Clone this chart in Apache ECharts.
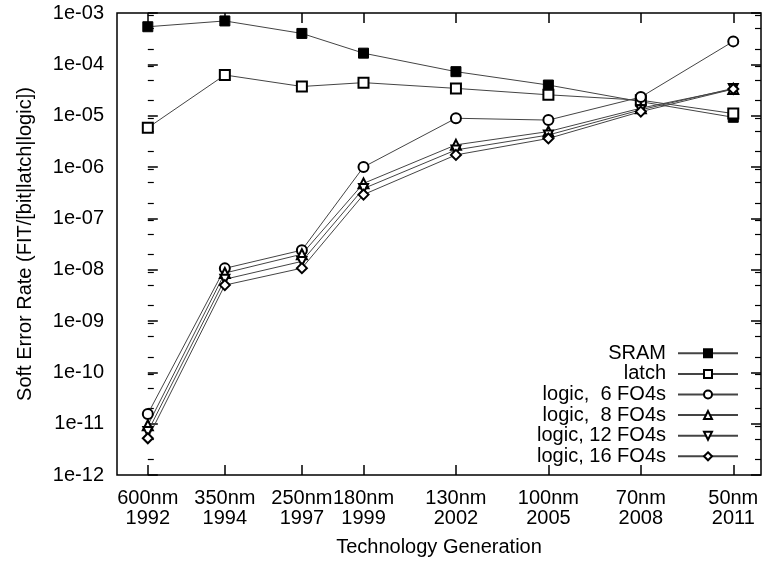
<!DOCTYPE html>
<html>
<head>
<meta charset="utf-8">
<title>Soft Error Rate</title>
<script src="https://cdn.jsdelivr.net/npm/echarts@6/dist/echarts.min.js"></script>
<style>
  html, body { margin: 0; padding: 0; background: #fff; }
  #chart { width: 763px; height: 565px; }
</style>
</head>
<body>
<div id="chart"></div>
<script>
// categories (x positions are where each generation sits on the axis)
const nodes = ["600nm", "350nm", "250nm", "180nm", "130nm", "100nm", "70nm", "50nm"];
const years = ["1992", "1994", "1997", "1999", "2002", "2005", "2008", "2011"];
const xPos = [0, 1, 2, 2.8, 4, 5.2, 6.4, 7.6];

// FIT per bit / latch / logic
const sram = [5.4e-4, 7.0e-4, 4.0e-4, 1.65e-4, 7.2e-5, 3.95e-5, 1.87e-5, 9.3e-6];
const latch = [5.8e-6, 6.2e-5, 3.7e-5, 4.4e-5, 3.4e-5, 2.55e-5, 2.0e-5, 1.1e-5];
const logic6 = [1.55e-11, 1.06e-8, 2.4e-8, 1.0e-6, 8.9e-6, 8.2e-6, 2.3e-5, 2.8e-4];
const logic8 = [9.3e-12, 8.6e-9, 2.0e-8, 4.8e-7, 2.7e-6, 4.9e-6, 1.4e-5, 3.3e-5];
const logic12 = [7.0e-12, 6.5e-9, 1.45e-8, 3.8e-7, 2.15e-6, 4.2e-6, 1.3e-5, 3.4e-5];
const logic16 = [5.2e-12, 5.0e-9, 1.07e-8, 2.9e-7, 1.72e-6, 3.6e-6, 1.2e-5, 3.3e-5];

// y axis ticks
const yMin = 1e-12;
const yMax = 1e-3;
const minorTicks = [];
for (let k = -12; k < -3; k++) {
  [2, 5, 9].forEach(m => minorTicks.push(m * Math.pow(10, k)));
}

const font = "Liberation Sans";
const ink = "#000";

let chart = echarts.init(document.getElementById("chart"));

function mkSeries(name, arr, symbol, size, rotate) {
  return {
    name: name,
    type: "line",
    data: xPos.map((x, i) => [x, arr[i]]),
    symbol: symbol,
    symbolSize: size,
    symbolRotate: rotate || 0,
    showAllSymbol: true,
    lineStyle: { color: "#444", width: 1 },
    itemStyle: { color: "#000", borderColor: "#000", borderWidth: 1 },
    emphasis: { disabled: true },
  };
}

function yAxisBase(pos) {
  return {
    type: "log",
    logBase: 10,
    min: yMin,
    max: yMax,
    position: pos,
    axisLine: { show: false },
    splitLine: { show: false },
  };
}

let option = {
  animation: false,
  backgroundColor: "#fff",
  grid: {
    left: 117,
    right: 2,
    top: 13,
    bottom: 90,
    show: true,
    borderColor: ink,
    borderWidth: 1.5,
    outerBoundsMode: "none",
  },
  legend: {
    orient: "vertical",
    right: 19,
    top: 338,
    align: "right",
    itemWidth: 60,
    itemHeight: 10,
    itemGap: 0,
    selectedMode: false,
    textStyle: { fontFamily: font, fontSize: 20, color: ink, lineHeight: 20.6, padding: [0, 7, 0, 0] },
    data: ["SRAM", "latch", "logic,  6 FO4s", "logic,  8 FO4s", "logic, 12 FO4s", "logic, 16 FO4s"],
  },
  xAxis: [
    {
      type: "value",
      min: -0.4,
      max: 7.96,
      position: "bottom",
      name: "Technology Generation",
      nameLocation: "middle",
      nameGap: 62,
      nameTextStyle: { fontFamily: font, fontSize: 20, color: ink },
      axisLine: { show: false },
      splitLine: { show: false },
      axisTick: { show: true, inside: true, length: 10, customValues: xPos, lineStyle: { color: ink, width: 1.5 } },
      axisLabel: {
        customValues: xPos,
        margin: 13,
        fontFamily: font,
        fontSize: 20,
        lineHeight: 20,
        color: ink,
        formatter: v => {
          let i = xPos.findIndex(x => Math.abs(x - v) < 1e-6);
          return i < 0 ? "" : nodes[i] + "\n" + years[i];
        },
      },
    },
    {
      type: "value",
      min: -0.4,
      max: 7.96,
      position: "top",
      axisLine: { show: false },
      splitLine: { show: false },
      axisLabel: { show: false },
      axisTick: { show: true, inside: true, length: 10, customValues: xPos, lineStyle: { color: ink, width: 1.5 } },
    },
  ],
  yAxis: [
    Object.assign(yAxisBase("left"), {
      interval: 1,
      name: "Soft Error Rate (FIT/[bit|latch|logic])",
      nameLocation: "middle",
      nameGap: 82,
      nameTextStyle: { fontFamily: font, fontSize: 20, color: ink },
      axisTick: { show: true, inside: true, length: 10, lineStyle: { color: ink, width: 1.5 } },
      axisLabel: {
        margin: 13,
        fontFamily: font,
        fontSize: 20,
        color: ink,
        formatter: v => {
          let e = Math.round(Math.log10(v));
          return "1e-" + String(-e).padStart(2, "0");
        },
      },
    }),
    Object.assign(yAxisBase("left"), {
      axisLabel: { show: false },
      axisTick: { show: true, inside: true, length: 6, customValues: minorTicks, lineStyle: { color: ink, width: 1.2 } },
    }),
    Object.assign(yAxisBase("right"), {
      interval: 1,
      axisLabel: { show: false },
      axisTick: { show: true, inside: true, length: 10, lineStyle: { color: ink, width: 1.5 } },
    }),
    Object.assign(yAxisBase("right"), {
      axisLabel: { show: false },
      axisTick: { show: true, inside: true, length: 6, customValues: minorTicks, lineStyle: { color: ink, width: 1.2 } },
    }),
  ],
  series: [
    mkSeries("SRAM", sram, "rect", 10),
    mkSeries("latch", latch, "emptyRect", 10),
    mkSeries("logic,  6 FO4s", logic6, "emptyCircle", 10),
    mkSeries("logic,  8 FO4s", logic8, "emptyTriangle", 10),
    mkSeries("logic, 12 FO4s", logic12, "emptyTriangle", 9, 180),
    mkSeries("logic, 16 FO4s", logic16, "emptyDiamond", 10),
  ],
};

chart.setOption(option);
</script>
</body>
</html>
